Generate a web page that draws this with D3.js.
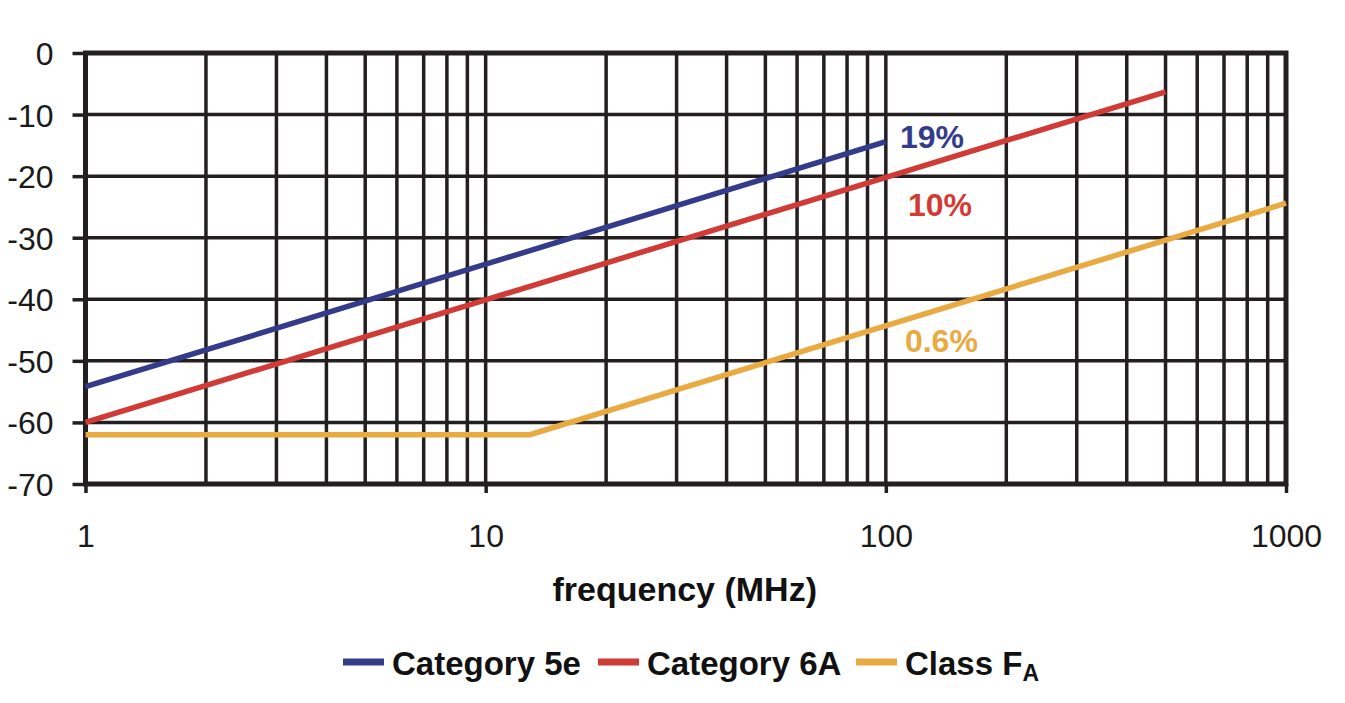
<!DOCTYPE html>
<html><head><meta charset="utf-8">
<script src="https://cdn.jsdelivr.net/npm/d3@7"></script>
<style>
html,body{margin:0;padding:0;background:#fff;}
svg{display:block;font-family:"Liberation Sans",Arial,Helvetica,sans-serif;}
</style></head>
<body>
<svg id="chart" width="1345" height="703"></svg>
<script>
// ---- data ----
const seriesNames = ["Category 5e", "Category 6A", "Class F"];
const seriesColors = ["#353b8b", "#d13b36", "#e9aa42"];
const cat5eFreq = [1, 100];
const cat5eValues = [-54.2, -14.4];
const cat6AFreq = [1, 500];
const cat6AValues = [-60.0, -6.3];
const classFAFreq = [1, 12.9, 1000];
const classFAValues = [-62.0, -62.0, -24.4];
const annotations = ["19%", "10%", "0.6%"];
const annotationFreq = [108.5, 113.6, 111.6];
const annotationLevel = [-15.4, -26.5, -48.6];
const xTickValues = [1, 10, 100, 1000];
const xTickLabels = ["1", "10", "100", "1000"];
const yTickValues = [0, -10, -20, -30, -40, -50, -60, -70];
const xAxisTitle = "frequency (MHz)";

(function () {
// ---- layout ----
const svg = d3.select("#chart");
const pL = 85.5, pR = 1286, pT = 53, pB = 484;
const x = d3.scaleLog().domain([1, 1000]).range([pL, pR]);
const y = d3.scaleLinear().domain([-70, 0]).range([pB, pT]);
const gridColor = "#231f20";

// vertical grid (log minor & major)
const gridX = [];
for (let d = 1; d < 1000; d *= 10) for (let k = 1; k <= 9; k++) gridX.push(d * k);
gridX.push(1000);
svg.append("g").selectAll("line").data(gridX).join("line")
  .attr("x1", d => x(d)).attr("x2", d => x(d))
  .attr("y1", pT).attr("y2", pB)
  .attr("stroke", gridColor).attr("stroke-width", 3.5);

// horizontal grid
svg.append("g").selectAll("line").data(yTickValues).join("line")
  .attr("x1", pL).attr("x2", pR)
  .attr("y1", d => y(d)).attr("y2", d => y(d))
  .attr("stroke", gridColor).attr("stroke-width", 3.5);

// frame
svg.append("rect").attr("x", pL).attr("y", pT)
  .attr("width", pR - pL).attr("height", pB - pT)
  .attr("fill", "none").attr("stroke", gridColor).attr("stroke-width", 5);

// y axis
const yAxis = d3.axisLeft(y).tickValues(yTickValues).tickSize(13).tickPadding(19)
  .tickFormat(d => d === 0 ? "0" : "-" + Math.abs(d));
const gy = svg.append("g").attr("transform", `translate(${pL},0)`).call(yAxis);
gy.select(".domain").remove();
gy.selectAll(".tick line").attr("stroke", gridColor).attr("stroke-width", 3.5);
gy.selectAll(".tick text").attr("fill", "#1a1a1a").style("font-size", "32px")
  .attr("dy", "0.36em");

// x axis
const xAxis = d3.axisBottom(x).tickValues(xTickValues).tickSize(9).tickPadding(30)
  .tickFormat((d, i) => xTickLabels[i]);
const gx = svg.append("g").attr("transform", `translate(0,${pB})`).call(xAxis);
gx.select(".domain").remove();
gx.selectAll(".tick line").attr("stroke", gridColor).attr("stroke-width", 3.5);
gx.selectAll(".tick text").attr("fill", "#1a1a1a").style("font-size", "32px")
  .attr("dy", "0.71em").attr("y", 40);

// axis title
svg.append("text").attr("x", (pL + pR) / 2 - 1).attr("y", 601)
  .attr("text-anchor", "middle").attr("font-weight", "bold")
  .style("font-size", "34px").attr("fill", "#111").text(xAxisTitle);

// data lines
const line = d3.line().x(d => x(d[0])).y(d => y(d[1]));
const seriesData = [
  d3.zip(cat5eFreq, cat5eValues),
  d3.zip(cat6AFreq, cat6AValues),
  d3.zip(classFAFreq, classFAValues)
];
svg.append("g").selectAll("path").data(seriesData).join("path")
  .attr("d", line).attr("fill", "none")
  .attr("stroke", (d, i) => seriesColors[i]).attr("stroke-width", 5.5);

// annotations
svg.append("g").selectAll("text").data(annotations).join("text")
  .attr("x", (d, i) => x(annotationFreq[i]))
  .attr("y", (d, i) => y(annotationLevel[i]))
  .attr("font-weight", "bold").style("font-size", "32px")
  .attr("fill", (d, i) => seriesColors[i]).text(d => d);

// legend
const legendX = [343, 598, 856];
const lg = svg.append("g");
seriesNames.forEach((name, i) => {
  lg.append("line").attr("x1", legendX[i]).attr("x2", legendX[i] + 41)
    .attr("y1", 662).attr("y2", 662)
    .attr("stroke", seriesColors[i]).attr("stroke-width", 7);
  const t = lg.append("text").attr("x", legendX[i] + 49).attr("y", 675)
    .attr("font-weight", "bold").style("font-size", "33px").attr("fill", "#111")
    .text(name);
  if (i === 2) {
    t.append("tspan").attr("dy", 6).style("font-size", "23px").text("A");
  }
});
})();
</script>
</body></html>
